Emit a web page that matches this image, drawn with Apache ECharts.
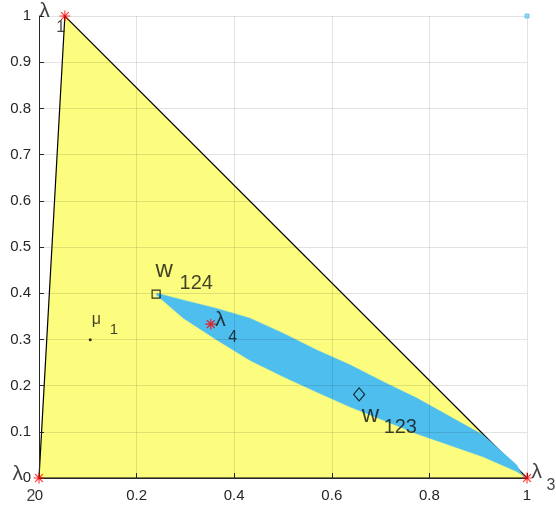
<!DOCTYPE html>
<html><head><meta charset="utf-8">
<script src="https://cdn.jsdelivr.net/npm/echarts@6/dist/echarts.min.js"></script>
<style>html,body{margin:0;padding:0;background:#fff}#c{width:556px;height:507px}</style>
</head><body><div id="c"></div>
<script>
// ---- data ----
const xTickValues = [0, 0.2, 0.4, 0.6, 0.8, 1];
const yTickValues = [0, 0.1, 0.2, 0.3, 0.4, 0.5, 0.6, 0.7, 0.8, 0.9, 1];
const triangleX = [0, 0.053, 1];
const triangleY = [0, 1, 0];
const regionUpperX = [0.241, 0.296, 0.364, 0.432, 0.501, 0.569, 0.637, 0.706, 0.774, 0.842, 0.910, 0.979, 0.992, 1];
const regionUpperY = [0.400, 0.385, 0.367, 0.346, 0.313, 0.277, 0.245, 0.208, 0.173, 0.133, 0.093, 0.028, 0.003, 0];
const regionLowerX = [0.241, 0.296, 0.364, 0.432, 0.501, 0.569, 0.637, 0.706, 0.774, 0.842, 0.910, 0.979];
const regionLowerY = [0.396, 0.346, 0.299, 0.255, 0.219, 0.186, 0.154, 0.125, 0.096, 0.071, 0.046, 0.014];
const starX = [0.053, 0, 1, 0.352];
const starY = [1, 0, 0, 0.333];
const muX = [0.105];
const muY = [0.299];
const w124X = [0.240], w124Y = [0.398];
const w123X = [0.656], w123Y = [0.181];
const cornerX = [1], cornerY = [1];
const annMain = ['λ', 'λ', 'λ', 'λ', 'μ', 'w', 'w'];
const annSub  = ['1', '2', '3', '4', '1', '124', '123'];
const annX = [0.053, 0, 1, 0.352, 0.105, 0.240, 0.656];
const annY = [1, 0, 0, 0.333, 0.299, 0.398, 0.181];

// ---- styles (pixel offsets for text) ----
const annStyle = [
  {m:[-25,-4,21], s:[-8,12,16]},
  {m:[-26,-3,21], s:[-12,19,16]},
  {m:[5,-5,21], s:[20,8,16]},
  {m:[5,-3,21], s:[18,14,16]},
  {m:[2,-20,16], s:[20,-10,15]},
  {m:[0,-23,24], s:[24,-10,20]},
  {m:[3,21,24], s:[25,34,20]}
];

const zip = (a, b) => a.map((v, i) => [v, b[i]]);
const trianglePts = zip(triangleX, triangleY);
const regionPts = zip(regionUpperX, regionUpperY).concat(zip(regionLowerX, regionLowerY).reverse());

function polygonSeries(pts, style, z) {
  return {
    type: 'custom', coordinateSystem: 'cartesian2d', z: z, silent: true, clip: false,
    data: [pts[0]],
    renderItem: (params, api) => ({
      type: 'polygon',
      shape: { points: pts.map(p => api.coord(p)) },
      style: style
    })
  };
}

const starPath = 'path://M0,4.5L10,4.5L10,5.5L0,5.5Z M4.5,0L5.5,0L5.5,10L4.5,10Z M1.9,1.1L8.9,8.1L8.1,8.9L1.1,1.9Z M8.1,1.1L8.9,1.9L1.9,8.9L1.1,8.1Z';

const FONT = 'Liberation Sans, Arial, Helvetica, sans-serif';
function textSeries(which) {
  return {
    type: 'scatter', z: 10, silent: true, symbolSize: 1,
    itemStyle: { color: 'rgba(0,0,0,0)' },
    data: annX.map((x, i) => {
      const st = annStyle[i][which];
      return {
        value: [x, annY[i]],
        label: {
          show: true, position: [0, 0], offset: [st[0], st[1]],
          align: 'left', verticalAlign: 'middle',
          formatter: which === 'm' ? annMain[i] : annSub[i],
          fontSize: st[2], fontFamily: FONT, color: '#111'
        }
      };
    })
  };
}

const axisCommon = {
  type: 'value', min: 0, max: 1, z: 5,
  axisLine: { show: true, onZero: false, lineStyle: { color: '#262626', width: 1 } },
  axisTick: { show: true, inside: true, length: 5, lineStyle: { color: '#262626' } },
  axisLabel: { color: '#262626', fontSize: 15, fontFamily: FONT },
  splitLine: { show: true, lineStyle: { color: 'rgba(38,38,38,0.13)', width: 1 } }
};

const chart = echarts.init(document.getElementById('c'), null, { renderer: 'canvas' });
chart.setOption({
  animation: false,
  backgroundColor: '#fff',
  grid: { left: 39, right: 29, top: 16, bottom: 29, containLabel: false },
  xAxis: Object.assign({}, axisCommon, {
    interval: xTickValues[1] - xTickValues[0],
    axisLabel: Object.assign({}, axisCommon.axisLabel, { margin: 10, formatter: v => String(+v.toFixed(1)) })
  }),
  yAxis: Object.assign({}, axisCommon, {
    interval: yTickValues[1] - yTickValues[0],
    axisLabel: Object.assign({}, axisCommon.axisLabel, { margin: 8, formatter: v => String(+v.toFixed(1)) })
  }),
  series: [
    polygonSeries(trianglePts, { fill: '#FCFC7E', stroke: '#000', lineWidth: 1.2 }, 1),
    polygonSeries(regionPts, { fill: '#4DBEEE', stroke: '#4DBEEE', lineWidth: 0.5 }, 2),
    { type: 'scatter', z: 8, silent: true, symbol: 'rect', symbolSize: 4,
      itemStyle: { color: '#7fcdee', borderColor: '#4DBEEE', borderWidth: 1 }, data: zip(cornerX, cornerY) },
    { type: 'scatter', z: 8, silent: true, symbol: 'circle', symbolSize: 3,
      itemStyle: { color: '#000' }, data: zip(muX, muY) },
    { type: 'scatter', z: 8, silent: true, symbol: 'rect', symbolSize: 8,
      itemStyle: { color: 'rgba(0,0,0,0)', borderColor: '#000', borderWidth: 1.2 }, data: zip(w124X, w124Y) },
    { type: 'scatter', z: 8, silent: true, symbol: 'diamond', symbolSize: [11, 13],
      itemStyle: { color: 'rgba(0,0,0,0)', borderColor: '#000', borderWidth: 1.2 }, data: zip(w123X, w123Y) },
    { type: 'scatter', z: 9, silent: true, symbol: starPath, symbolSize: 11,
      itemStyle: { color: '#ff0000' }, data: zip(starX, starY) },
    textSeries('m'),
    textSeries('s')
  ]
});
</script>
</body></html>
